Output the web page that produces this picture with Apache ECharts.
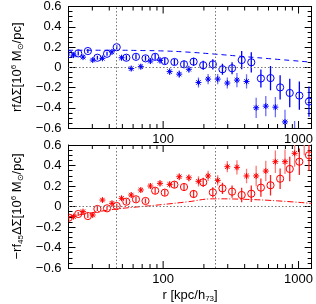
<!DOCTYPE html>
<html><head><meta charset="utf-8">
<script src="https://cdn.jsdelivr.net/npm/echarts@6/dist/echarts.min.js"></script>
<style>html,body{margin:0;padding:0;background:#fff}#c{width:316px;height:304px}</style>
</head><body><div id="c"></div>
<script>
// radial bins (kpc/h73)
const circleR = [20.1,23.6,27.8,32.7,38.5,45.4,53.5,63.0,74.1,87.3,102.8,121.1,142.6,167.9,197.7,232.8,274.2,322.9,380.2,447.7,527.2,620.9,731.1,861.0,1013.9,1194.0];
const starR = [21.8,25.6,30.2,35.6,41.9,49.3,58.1,68.4,80.5,94.8,111.7,131.5,154.9,182.4,214.8,252.9,297.9,350.8,413.0,486.4,572.8,674.5,794.3,935.4,1101.6];
// top panel
const topCircle = [0.13,0.137,0.16,0.094,0.133,0.198,0.094,0.103,0.088,0.103,0.061,0.052,0.029,0.055,0.02,0.029,-0.02,-0.01,0.071,0.049,-0.111,-0.107,-0.199,-0.254,-0.28,-0.339];
const topCircleErr = [0.02,0.02,0.02,0.02,0.02,0.02,0.025,0.025,0.025,0.03,0.03,0.03,0.035,0.04,0.045,0.05,0.055,0.06,0.09,0.1,0.09,0.12,0.12,0.14,0.14,0.15];
const topStar = [0.12,0.10,0.071,0.088,0.152,0.094,-0.013,0.006,0.061,0.068,-0.043,-0.068,-0.02,-0.15,-0.117,-0.117,-0.156,-0.127,-0.14,-0.40,-0.384,-0.394,-0.54,-0.66,-0.75];
const topStarErr = [0.02,0.02,0.02,0.02,0.025,0.025,0.025,0.025,0.03,0.03,0.03,0.035,0.035,0.05,0.05,0.05,0.055,0.07,0.07,0.1,0.1,0.1,0.12,0.13,0.15];
// bottom panel
const botCircle = [-0.109,-0.073,-0.093,-0.024,-0.018,0.005,0.047,0.07,0.054,0.154,0.135,0.213,0.19,0.122,0.236,0.138,0.177,0.145,0.112,0.125,0.184,0.207,0.271,0.366,0.437,0.5];
const botCircleErr = [0.02,0.02,0.02,0.02,0.02,0.02,0.025,0.025,0.025,0.03,0.03,0.03,0.035,0.04,0.045,0.05,0.055,0.06,0.07,0.08,0.09,0.1,0.1,0.12,0.13,0.15];
const botStar = [-0.099,-0.05,-0.083,0.063,0.031,0.08,0.112,0.161,0.2,0.226,0.216,0.29,0.28,0.246,0.298,0.255,0.388,0.382,0.298,0.298,0.346,0.437,0.437,0.519,0.65];
const botStarErr = [0.02,0.02,0.02,0.02,0.025,0.025,0.025,0.025,0.03,0.03,0.03,0.035,0.035,0.05,0.05,0.05,0.055,0.07,0.07,0.1,0.1,0.11,0.12,0.13,0.15];
// model curves
const modelR = [20,30,45,70,100,150,240,400,700,1250];
const topModel = [0.168,0.168,0.168,0.165,0.161,0.15,0.13,0.105,0.078,0.05];
const botModel = [-0.1,-0.06,-0.025,0.0,0.02,0.045,0.075,0.07,0.055,0.03];
// reference lines and ticks
const refR = [45, 242];
const xTicks = [30,40,50,60,70,80,90,100,200,300,400,500,600,700,800,900,1000];
const xMajor = [100, 1000];
const yTickLabels = ['\u22120.6','\u22120.4','\u22120.2','0','0.2','0.4','0.6'];

const FONT = 'Liberation Sans';
const chart = echarts.init(document.getElementById('c'), null, {renderer:'canvas'});

function errSeries(xi, yi, rs, vs, es, color, barColor, star) {
  return {
    type:'custom', xAxisIndex:xi, yAxisIndex:yi, z:4, silent:true,
    data: rs.map((r,i)=>[r, vs[i], es[i]]),
    renderItem(params, api){
      const r=api.value(0), v=api.value(1), e=api.value(2);
      const c=api.coord([r,v]), lo=api.coord([r,v-e]), hi=api.coord([r,v+e]);
      const cs=params.coordSys;
      const ch=[{type:'line', shape:{x1:c[0],y1:lo[1],x2:c[0],y2:hi[1]}, style:{stroke:barColor, lineWidth:1.3}}];
      if(star){
        const a=3, d=2.2;
        ch.push({type:'line', shape:{x1:c[0]-a,y1:c[1],x2:c[0]+a,y2:c[1]}, style:{stroke:color,lineWidth:1}});
        ch.push({type:'line', shape:{x1:c[0],y1:c[1]-a,x2:c[0],y2:c[1]+a}, style:{stroke:color,lineWidth:1}});
        ch.push({type:'line', shape:{x1:c[0]-d,y1:c[1]-d,x2:c[0]+d,y2:c[1]+d}, style:{stroke:color,lineWidth:1}});
        ch.push({type:'line', shape:{x1:c[0]-d,y1:c[1]+d,x2:c[0]+d,y2:c[1]-d}, style:{stroke:color,lineWidth:1}});
      } else {
        ch.push({type:'circle', shape:{cx:c[0],cy:c[1],r:3.6}, style:{fill:'none',stroke:color,lineWidth:1}});
      }
      return {type:'group', children:ch, clipPath:{type:'rect', shape:{x:cs.x,y:cs.y,width:cs.width,height:cs.height}}};
    }
  };
}
function tickSeries(xi, yi) {
  return {
    type:'custom', xAxisIndex:xi, yAxisIndex:yi, z:5, silent:true,
    data: xTicks.map(t=>[t,0]),
    renderItem(params, api){
      const t=api.value(0);
      const b=api.coord([t,-0.6]), tp=api.coord([t,0.6]);
      const len = xMajor.includes(t) ? 7 : 4;
      return {type:'group', children:[
        {type:'line', shape:{x1:b[0],y1:b[1],x2:b[0],y2:b[1]-len}, style:{stroke:'#000',lineWidth:1}},
        {type:'line', shape:{x1:tp[0],y1:tp[1],x2:tp[0],y2:tp[1]+len}, style:{stroke:'#000',lineWidth:1}}
      ]};
    }
  };
}
function refLines(){
  return {
    symbol:'none', silent:true, label:{show:false},
    lineStyle:{type:[1.5,2], color:'#777', width:1},
    data: refR.map(r=>({xAxis:r})).concat([{yAxis:0}])
  };
}
function xAx(gi, pos, labels, name){
  return {
    gridIndex:gi, type:'log', logBase:10, min:20, max:1250, position:pos,
    axisLine:{show:true, onZero:false, lineStyle:{color:'#000',width:1}},
    axisTick:{show:false}, minorTick:{show:false}, splitLine:{show:false},
    axisLabel:{show:labels, margin:5, color:'#000', fontFamily:FONT, fontSize:13,
      formatter:v=>{const r=Math.round(v); return xMajor.includes(r)?String(r):'';}},
    name: name||'', nameLocation:'middle', nameGap:19,
    nameTextStyle:{color:'#000', fontFamily:FONT, fontSize:13,
      rich:{s:{fontSize:8, fontFamily:FONT, padding:[8,0,0,0]}, n:{fontSize:13,fontFamily:FONT}}}
  };
}
function yAx(gi, pos, labels, name){
  return {
    gridIndex:gi, type:'value', min:-0.6, max:0.6, interval:0.2, position:pos,
    axisLine:{show:true, lineStyle:{color:'#000',width:1}},
    axisTick:{show:true, inside:true, length:7, lineStyle:{color:'#000'}},
    minorTick:{show:true, splitNumber:4, length:4, lineStyle:{color:'#000'}},
    splitLine:{show:false},
    axisLabel:{show:labels, margin:7, color:'#000', fontFamily:FONT, fontSize:13,
      formatter:v=>yTickLabels[Math.round((v+0.6)/0.2)]},
    name: name||'', nameLocation:'middle', nameRotate:90, nameGap:44,
    nameTextStyle:{color:'#000', fontFamily:FONT, fontSize:13,
      rich:{n:{fontSize:13,fontFamily:FONT}, sup:{fontSize:8,fontFamily:FONT,padding:[0,0,7,0]}, sub:{fontSize:8,fontFamily:FONT,padding:[7,0,0,0]}}}
  };
}

const option = {
  animation:false, backgroundColor:'#fff',
  grid:[
    {left:68.5, top:5, width:245.5, height:123},
    {left:68.5, top:145, width:245.5, height:123}
  ],
  xAxis:[
    xAx(0,'bottom',true), xAx(0,'top',false),
    xAx(1,'bottom',true,'{n|r [kpc/h}{s|73}{n|]}'), xAx(1,'top',false)
  ],
  yAxis:[
    yAx(0,'left',true,'{n|rfΔΣ[10}{sup|6}{n| M}{sub|⊙}{n|/pc]}'), yAx(0,'right',false),
    yAx(1,'left',true,'{n|\u2212rf}{sub|45}{n|ΔΣ[10}{sup|6}{n| M}{sub|⊙}{n|/pc]}'), yAx(1,'right',false)
  ],
  series:[
    {type:'line', xAxisIndex:0, yAxisIndex:0, data:modelR.map((r,i)=>[r,topModel[i]]), showSymbol:false, smooth:true,
      lineStyle:{color:'#0000ff', width:1, type:[5,4]}, z:2, markLine:refLines()},
    {type:'line', xAxisIndex:2, yAxisIndex:2, data:modelR.map((r,i)=>[r,botModel[i]]), showSymbol:false, smooth:true,
      lineStyle:{color:'#ff0000', width:1, type:[6,2,1,2]}, z:2, markLine:refLines()},
    errSeries(0,0,starR,topStar,topStarErr,'#0000ff','#6f6fff',true),
    errSeries(0,0,circleR,topCircle,topCircleErr,'#0000ff','#0000ff',false),
    errSeries(2,2,starR,botStar,botStarErr,'#ff0000','#ff7777',true),
    errSeries(2,2,circleR,botCircle,botCircleErr,'#ff0000','#ff2222',false),
    tickSeries(0,0), tickSeries(2,2)
  ]
};
chart.setOption(option);
</script></body></html>
